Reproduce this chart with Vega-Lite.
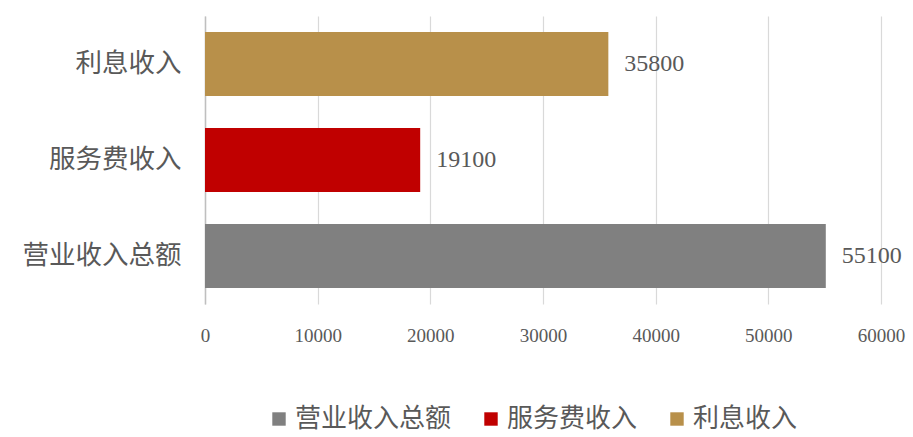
{
  "$schema": "https://vega.github.io/schema/vega-lite/v6.json",
  "width": 676,
  "height": 288,
  "padding": {"left": 5, "top": 16, "right": 32, "bottom": 60},
  "background": "white",
  "data": {"values": [
    {"category": "利息收入", "value": 35800},
    {"category": "服务费收入", "value": 19100},
    {"category": "营业收入总额", "value": 55100}
  ]},
  "encoding": {
    "y": {"field": "category", "type": "nominal", "sort": ["利息收入", "服务费收入", "营业收入总额"],
      "scale": {"paddingInner": 0.3333, "paddingOuter": 0.1667},
      "axis": {"title": null, "ticks": false, "domain": true, "domainColor": "#BFBFBF", "domainWidth": 1.5,
        "labelFont": "Noto Sans CJK SC", "labelFontSize": 26.5, "labelColor": "#595959", "labelPadding": 24, "minExtent": 200}},
    "x": {"field": "value", "type": "quantitative", "scale": {"domain": [0, 60000]},
      "axis": {"title": null, "values": [0, 10000, 20000, 30000, 40000, 50000, 60000], "format": "d",
        "grid": true, "gridColor": "#D9D9D9", "gridWidth": 1.2, "domain": false, "ticks": false, "labelFlush": false,
        "labelFont": "Liberation Serif", "labelFontSize": 19, "labelColor": "#595959", "labelPadding": 22}}
  },
  "layer": [
    {"mark": {"type": "bar"},
      "encoding": {"color": {"field": "category", "type": "nominal",
        "scale": {"domain": ["营业收入总额", "服务费收入", "利息收入"], "range": ["#808080", "#C00000", "#B8904A"]},
        "legend": {"title": null, "orient": "none", "legendX": 61, "legendY": 390, "direction": "horizontal", "symbolType": "square", "symbolSize": 180,
          "symbolStrokeWidth": 0, "labelFont": "Noto Sans CJK SC", "labelFontSize": 26, "labelColor": "#595959",
          "columnPadding": 26, "labelOffset": 3}}}},
    {"mark": {"type": "text", "align": "left", "baseline": "middle", "dx": 16, "font": "Liberation Serif", "fontSize": 24, "color": "#595959"},
      "encoding": {"text": {"field": "value", "type": "quantitative", "format": "d"}}}
  ],
  "config": {"view": {"stroke": null}}
}
